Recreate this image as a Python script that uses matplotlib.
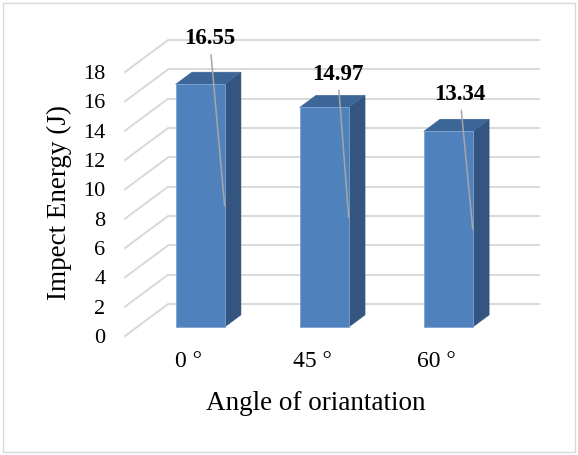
import matplotlib.pyplot as plt
from matplotlib.patches import Polygon, Rectangle

angles = ["0 °", "45 °", "60 °"]
energy = [16.55, 14.97, 13.34]
yticks = list(range(0, 20, 2))
# hand-placed data label offsets (pixels from the leader anchor)
label_offsets = [(-15, 167), (-11, 143), (-13, 135)]

plt.rcParams["font.family"] = ["Liberation Serif", "DejaVu Serif"]

# oblique depth vector: full depth in (category, value) units
DX, DY = 0.347, 2.18
BAR_W = 0.395
D_FRONT, D_BACK = 0.28, 0.66

FRONT = "#4f81bd"
SIDE = "#34557f"
TOP = "#3d6698"
GRID = "#d9d9d9"

fig = plt.figure(figsize=(5.78, 4.55), dpi=100)
W, H = 578, 455
ax = fig.add_axes([125 / W, (H - 336) / H, (497 - 125) / W, (336 - 72) / H])
x0, x1 = -0.508, 2.49
ax.set_xlim(x0, x1)
ax.set_ylim(0, 18)
for s in ax.spines.values():
    s.set_visible(False)
ax.patch.set_visible(False)

# back wall gridlines plus the diagonals on the side wall
for v in yticks:
    ax.plot([x0 + DX, x1 + DX], [v + DY, v + DY], color=GRID, lw=1.4,
            clip_on=False, zorder=1, solid_capstyle="butt")
    ax.plot([x0, x0 + DX], [v, v + DY], color=GRID, lw=1.4,
            clip_on=False, zorder=1)

for i, v in enumerate(energy):
    fl = i - BAR_W / 2 + D_FRONT * DX
    fr = i + BAR_W / 2 + D_FRONT * DX
    fb = D_FRONT * DY
    bdx = (D_BACK - D_FRONT) * DX
    bdy = (D_BACK - D_FRONT) * DY
    front = Polygon([(fl, fb), (fr, fb), (fr, fb + v), (fl, fb + v)],
                    closed=True, fc=FRONT, ec="#7fa3d1", lw=0.6,
                    clip_on=False, zorder=3)
    side = Polygon([(fr, fb), (fr + bdx, fb + bdy), (fr + bdx, fb + bdy + v),
                    (fr, fb + v)], closed=True, fc=SIDE, ec=SIDE, lw=0.4,
                   clip_on=False, zorder=3)
    top = Polygon([(fl, fb + v), (fr, fb + v), (fr + bdx, fb + bdy + v),
                   (fl + bdx, fb + bdy + v)], closed=True, fc=TOP, ec=TOP,
                  lw=0.4, clip_on=False, zorder=3)
    for p in (side, top, front):
        ax.add_patch(p)

    # leader from the label to the middle of the bar's right front edge
    ax.annotate(f"{v:.2f}", xy=(fr, fb + v / 2), xytext=label_offsets[i],
                textcoords="offset pixels", ha="center", va="center",
                fontsize=16.5, fontweight="bold", annotation_clip=False,
                zorder=5,
                arrowprops=dict(arrowstyle="-", color="#a6a6a6", lw=1.1,
                                shrinkA=2, shrinkB=0))

ax.set_yticks(yticks)
ax.set_yticklabels([str(t) for t in yticks], fontsize=16)
ax.set_xticks(range(len(angles)))
ax.set_xticklabels(angles, fontsize=17)
ax.tick_params(axis="y", length=0, pad=14)
ax.tick_params(axis="x", length=0, pad=11)

fig.text(59 / W, 1 - 203 / H, "Impect Energy (J)", rotation=90,
         ha="center", va="center", fontsize=19.5)
fig.text(316 / W, 1 - 404 / H, "Angle of oriantation",
         ha="center", va="center", fontsize=19.5)

fig.add_artist(Rectangle((3 / W, 3 / H), 572 / W, 449 / H,
                         transform=fig.transFigure, fill=False,
                         ec=GRID, lw=1.0))

fig.savefig("out.png", dpi=100)
